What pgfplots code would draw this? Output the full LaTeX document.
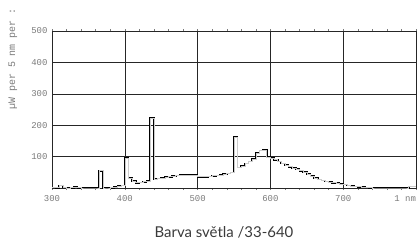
\documentclass[border=0pt]{standalone}
\usepackage{pgfplots}
\pgfplotsset{compat=1.18}
\usepackage{fontspec}
\setmainfont{Lato}
\newfontfamily\monofont{Liberation Mono}
\definecolor{tickgray}{HTML}{7A7A7A}
\definecolor{titlegray}{HTML}{3A3A3A}
\begin{document}
\begin{tikzpicture}
\path[use as bounding box] (0bp,0bp) rectangle (417bp,-249bp);
\begin{axis}[
  at={(52bp,-188bp)}, anchor=south west,
  scale only axis, width=364bp, height=157bp,
  xmin=300, xmax=800, ymin=0, ymax=500,
  xtick={300,400,500,600,700,800},
  xticklabels={300,400,500,600,700,{\llap{1 nm}}},
  ytick={100,200,300,400,500},
  minor x tick num=4,
  tick align=outside,
  major tick length=2bp, minor tick length=2bp,
  ytick style={draw=none},
  xtick style={draw=tickgray, line width=0.4bp},
  grid=major,
  major grid style={draw=black!85, line width=0.5bp},
  axis line style={draw=black!85, line width=0.6bp},
  /pgf/number format/assume math mode=true,
  ticklabel style={font=\monofont\fontsize{9}{10}\selectfont, text=tickgray},
  xticklabel style={yshift=-2bp},
  yticklabel style={xshift=1bp},
]
\addplot[const plot, draw=black, line width=0.55bp, double=black!20, double distance=0.6bp] coordinates {
(300,2) (305,1) (310,8) (315,2) (320,0) (325,1) (330,3) (335,1) (340,0) (345,0)
(350,0) (355,0) (360,0) (365,55) (370,0) (375,0) (380,1) (385,3) (390,7) (395,8)
(400,95) (405,32) (410,22) (415,17) (420,18) (425,20) (430,22) (435,222) (440,28) (445,30)
(450,32) (455,34) (460,36) (465,38) (470,40) (475,41) (480,41) (485,41) (490,41) (495,41)
(500,36) (505,36) (510,36) (515,37) (520,39) (525,40) (530,42) (535,44) (540,46) (545,49)
(550,163) (555,65) (560,70) (565,78) (570,84) (575,92) (580,112) (585,119) (590,120) (595,98)
(600,95) (605,90) (610,84) (615,78) (620,73) (625,68) (630,64) (635,60) (640,55) (645,50)
(650,44) (655,38) (660,32) (665,27) (670,24) (675,21) (680,19) (685,17) (690,15) (695,13)
(700,11) (705,8) (710,6) (715,5) (720,4) (725,3) (730,2) (735,1) (740,0) (745,0)
(750,0) (755,0) (760,0) (765,0) (770,0) (775,0) (780,0) (785,0) (790,5) (795,5) (800,5)
};
\end{axis}
\node[rotate=90, anchor=east, inner sep=0pt, text=tickgray, font=\monofont\fontsize{10}{11}\selectfont] at (13bp,-8bp) {µW per 5 nm per :};
\node[anchor=base, inner sep=0pt, text=titlegray, font=\fontsize{15}{18}\selectfont] at (224bp,-237.5bp) {Barva světla /33-640};
\end{tikzpicture}
\end{document}
